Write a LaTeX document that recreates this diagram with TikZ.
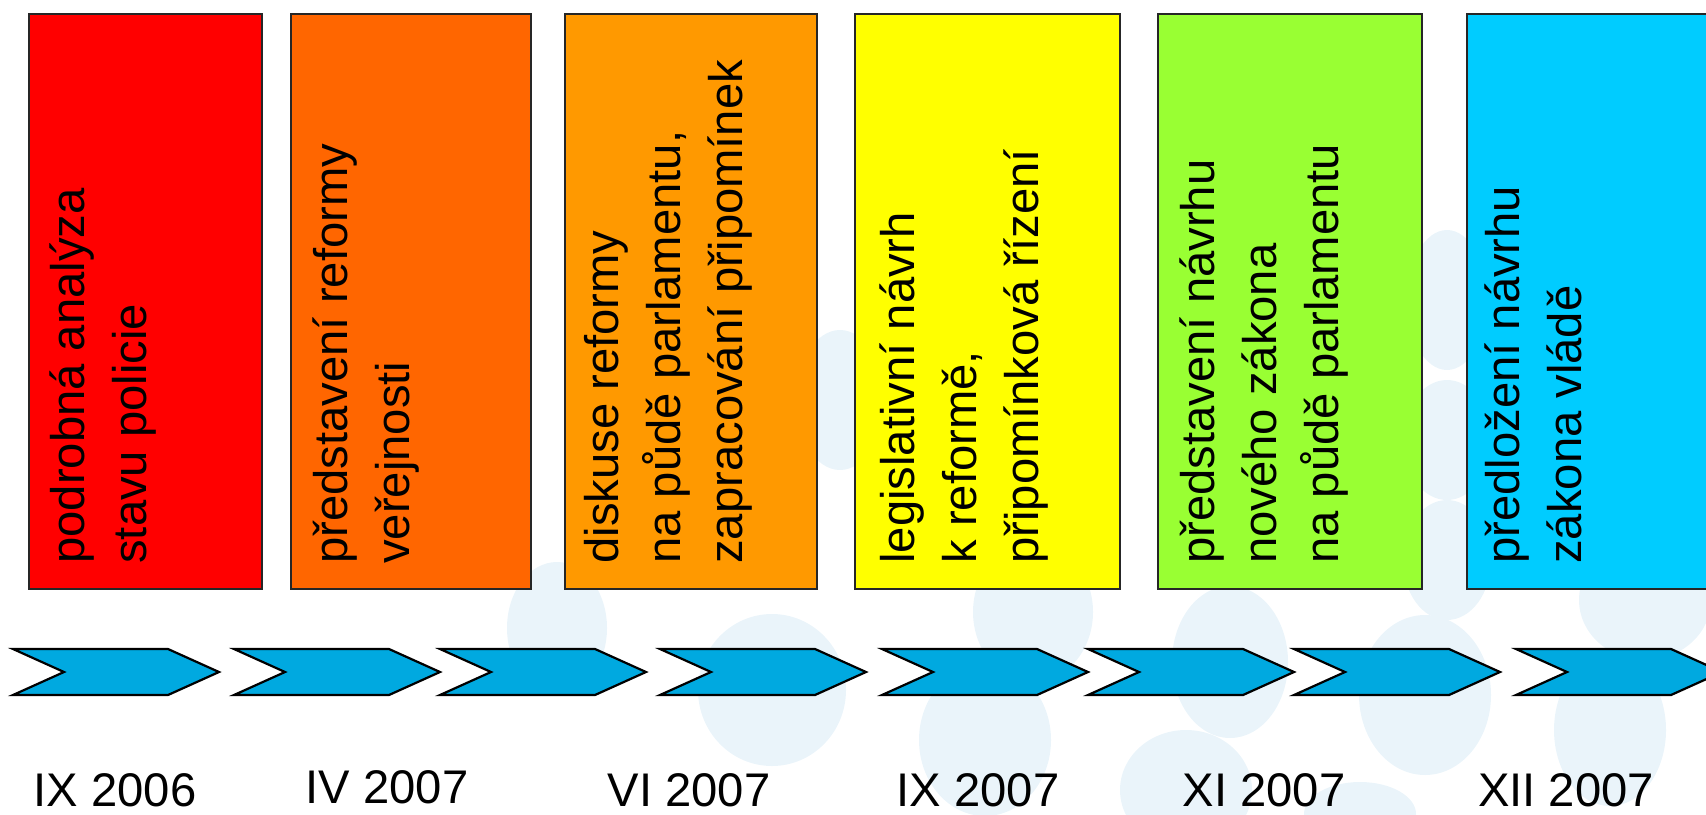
\documentclass[tikz,border=0pt]{standalone}
\usepackage{fontspec}
\setmainfont{Liberation Sans}
\usepackage{tikz}
\usetikzlibrary{positioning}

\definecolor{stagered}{RGB}{255,0,0}
\definecolor{stageorange}{RGB}{255,102,0}
\definecolor{stageamber}{RGB}{255,153,0}
\definecolor{stageyellow}{RGB}{255,255,0}
\definecolor{stagegreen}{RGB}{153,255,51}
\definecolor{stagecyan}{RGB}{0,204,255}
\definecolor{arrowblue}{RGB}{0,169,224}
\definecolor{dotblue}{RGB}{234,244,250}

\begin{document}
\begin{tikzpicture}[x=0.5pt,y=-0.5pt,
    stagebox/.style={draw=black!85, line width=1pt, anchor=north west, inner sep=0, minimum height=287.5pt},
    stagetext/.style={rotate=90, anchor=base west, inner sep=0, align=left, font=\fontsize{23.6}{31pt}\selectfont},
    datelabel/.style={anchor=base, inner sep=0, font=\fontsize{23.6}{28}\selectfont},
    chevron/.style={draw=black, line width=1.1pt, fill=arrowblue, line join=miter}]
        \useasboundingbox (0,0) rectangle (1706,814);
        % pale dots in the background
        \foreach \cx/\cy/\rx/\ry in {557/628/25/33, 1033/612/30/35, 1230/662/29/38, 1645/600/33/30,
                772/690/37/38, 985/740/33/38, 1425/695/33/40, 1610/730/28/38, 1186/790/33/30,
                1360/814/28/16, 840/400/22/35, 1447/300/20/35, 1447/440/22/30, 1447/560/22/30}
            \fill[dotblue] (\cx,\cy) ellipse [x radius=\rx pt, y radius=\ry pt];

        % stages
        \node[stagebox, fill=stagered, minimum width=116.5pt] (b1) at (28,13) {};
        \node[stagebox, fill=stageorange, minimum width=120pt] (b2) at (289.5,13) {};
        \node[stagebox, fill=stageamber, minimum width=126pt] (b3) at (564,13) {};
        \node[stagebox, fill=stageyellow, minimum width=132.5pt] (b4) at (854,13) {};
        \node[stagebox, fill=stagegreen, minimum width=132.25pt] (b5) at (1156.5,13) {};
        \node[stagebox, fill=stagecyan, minimum width=132pt] (b6) at (1466,13) {};

        % the anchor sits on the last line
        \node[stagetext] (t1) at ([xshift=59pt, yshift=13pt]b1.south west) {podrobná analýza\\stavu policie};
        \node[stagetext] (t2) at ([xshift=60pt, yshift=13pt]b2.south west) {představení reformy\\veřejnosti};
        \node[stagetext] (t3) at ([xshift=89pt, yshift=13pt]b3.south west) {diskuse reformy\\na půdě parlamentu,\\zapracování připomínek};
        \node[stagetext] (t4) at ([xshift=92pt, yshift=13pt]b4.south west) {legislativní návrh\\k reformě,\\připomínková řízení};
        \node[stagetext] (t5) at ([xshift=91pt, yshift=13pt]b5.south west) {představení návrhu\\nového zákona\\na půdě parlamentu};
        \node[stagetext] (t6) at ([xshift=57.5pt, yshift=13pt]b6.south west) {předložení návrhu\\zákona vládě};

        % time line
        \foreach \x in {13,234,440,660,882,1088,1294,1516}
            \draw[chevron] (\x,649) -- ++(155,0) -- ++(51,23) -- ++(-51,23) -- ++(-155,0) -- ++(51,-23) -- cycle;

        \node[datelabel] (d1) at (115,806) {IX 2006};
        \node[datelabel] (d2) at (387,803) {IV 2007};
        \node[datelabel] (d3) at (689,806) {VI 2007};
        \node[datelabel] (d4) at (978,806) {IX 2007};
        \node[datelabel] (d5) at (1264,806) {XI 2007};
        \node[datelabel] (d6) at (1566,806) {XII 2007};
\end{tikzpicture}
\end{document}
